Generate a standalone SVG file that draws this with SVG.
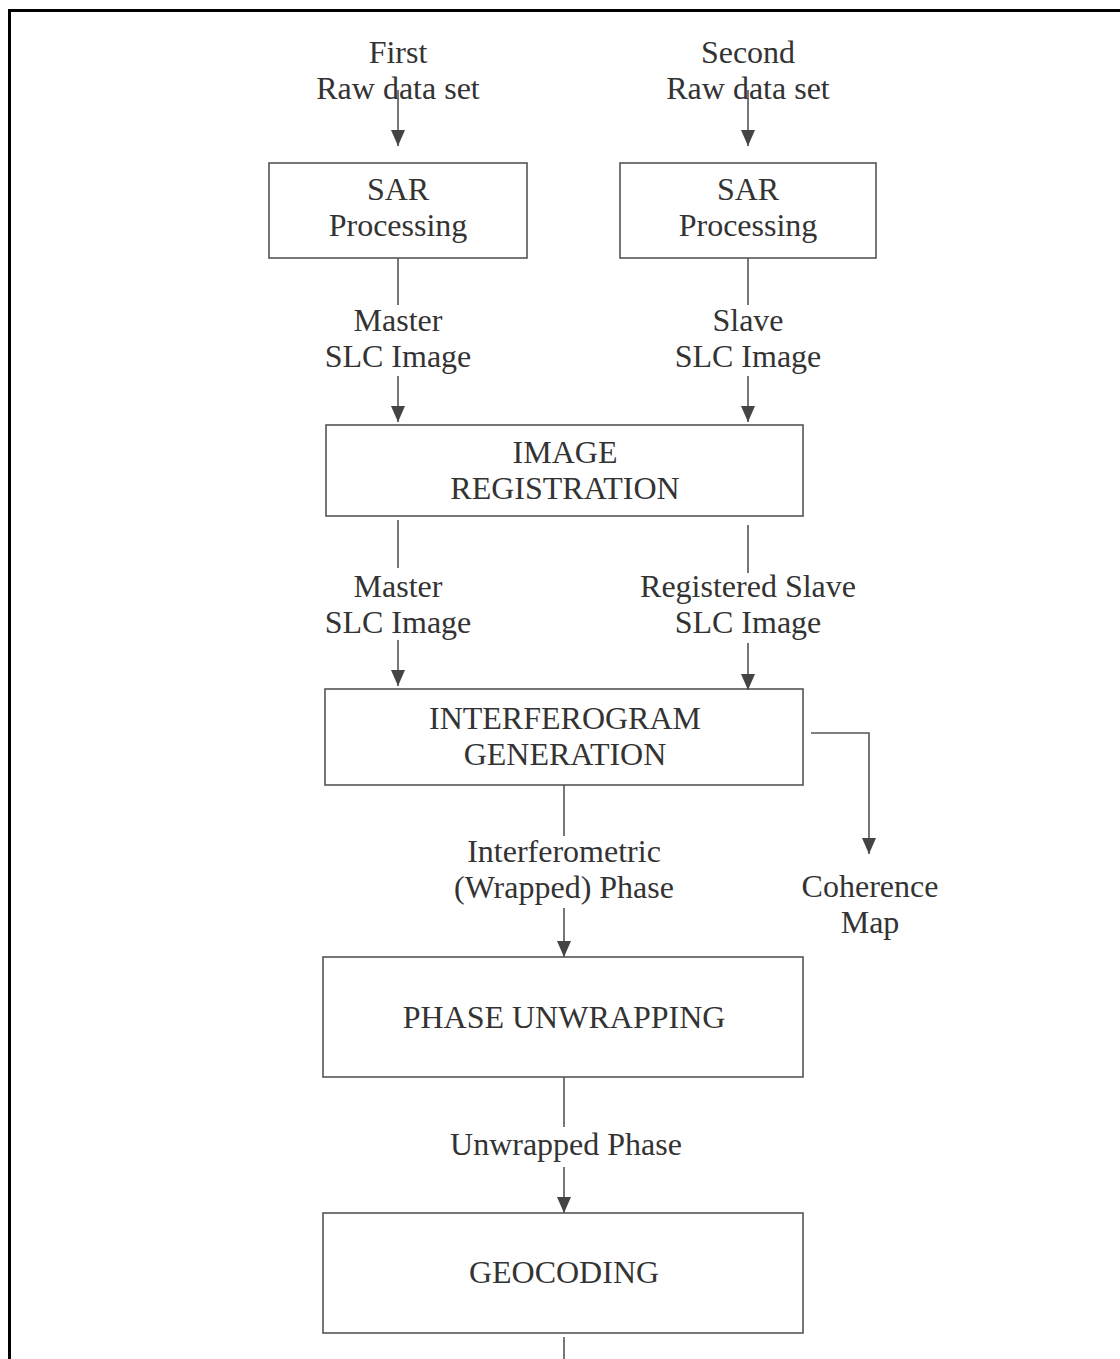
<svg xmlns="http://www.w3.org/2000/svg" width="1120" height="1359" viewBox="0 0 1120 1359">
<defs>
<style>
.t{font-family:"Liberation Serif","Times New Roman",serif;font-size:32px;fill:#333;text-anchor:middle}
.box{fill:#fff;stroke:#555;stroke-width:1.6}
.ln{fill:none;stroke:#555;stroke-width:1.6}
.ar{marker-end:url(#ah)}
</style>
<marker id="ah" markerUnits="userSpaceOnUse" viewBox="0 0 16 14" refX="16" refY="7" markerWidth="16" markerHeight="14" orient="auto">
<path d="M0,0 L16,7 L0,14 Z" fill="#444"/>
</marker>
</defs>
<rect width="1120" height="1359" fill="#fff"/>
<path d="M9.5,1359 V10.5 H1120" fill="none" stroke="#000" stroke-width="3"/>

<g id="input1">
<text class="t" x="398" y="63">First</text>
<text class="t" x="398" y="99">Raw data set</text>
</g>
<g id="input2">
<text class="t" x="748" y="63">Second</text>
<text class="t" x="748" y="99">Raw data set</text>
</g>

<g id="sar1">
<rect class="box" x="269" y="163" width="258" height="95"/>
<text class="t" x="398" y="200">SAR</text>
<text class="t" x="398" y="236">Processing</text>
</g>
<g id="sar2">
<rect class="box" x="620" y="163" width="256" height="95"/>
<text class="t" x="748" y="200">SAR</text>
<text class="t" x="748" y="236">Processing</text>
</g>

<g id="registration">
<rect class="box" x="326" y="425" width="477" height="91"/>
<text class="t" x="565" y="463">IMAGE</text>
<text class="t" x="565" y="499">REGISTRATION</text>
</g>

<g id="interferogram">
<rect class="box" x="325" y="689" width="478" height="96"/>
<text class="t" x="565" y="729">INTERFEROGRAM</text>
<text class="t" x="565" y="765">GENERATION</text>
</g>

<g id="coherence">
<text class="t" x="870" y="897">Coherence</text>
<text class="t" x="870" y="933">Map</text>
</g>

<g id="unwrapping">
<rect class="box" x="323" y="957" width="480" height="120"/>
<text class="t" x="564" y="1028">PHASE UNWRAPPING</text>
</g>

<g id="geocoding">
<rect class="box" x="323" y="1213" width="480" height="120"/>
<text class="t" x="564" y="1283">GEOCODING</text>
</g>

<g id="connectors">
<line class="ln ar" x1="398" y1="90" x2="398" y2="146"/>
<line class="ln ar" x1="748" y1="90" x2="748" y2="146"/>

<line class="ln" x1="398" y1="258" x2="398" y2="305"/>
<line class="ln ar" x1="398" y1="376" x2="398" y2="422"/>
<line class="ln" x1="748" y1="258" x2="748" y2="305"/>
<line class="ln ar" x1="748" y1="376" x2="748" y2="422"/>

<text class="t" x="398" y="331">Master</text>
<text class="t" x="398" y="367">SLC Image</text>
<text class="t" x="748" y="331">Slave</text>
<text class="t" x="748" y="367">SLC Image</text>

<line class="ln" x1="398" y1="520" x2="398" y2="568"/>
<line class="ln ar" x1="398" y1="640" x2="398" y2="686"/>
<line class="ln" x1="748" y1="525" x2="748" y2="573"/>
<line class="ln ar" x1="748" y1="643" x2="748" y2="690"/>

<text class="t" x="398" y="597">Master</text>
<text class="t" x="398" y="633">SLC Image</text>
<text class="t" x="748" y="597">Registered Slave</text>
<text class="t" x="748" y="633">SLC Image</text>

<polyline class="ln ar" points="811,733 869,733 869,854"/>

<line class="ln" x1="564" y1="785" x2="564" y2="836"/>
<line class="ln ar" x1="564" y1="908" x2="564" y2="957"/>
<text class="t" x="564" y="862">Interferometric</text>
<text class="t" x="564" y="898">(Wrapped) Phase</text>

<line class="ln" x1="564" y1="1077" x2="564" y2="1127"/>
<line class="ln ar" x1="564" y1="1167" x2="564" y2="1213"/>
<text class="t" x="566" y="1155">Unwrapped Phase</text>

<line class="ln" x1="564" y1="1337" x2="564" y2="1359"/>
</g>
</svg>
